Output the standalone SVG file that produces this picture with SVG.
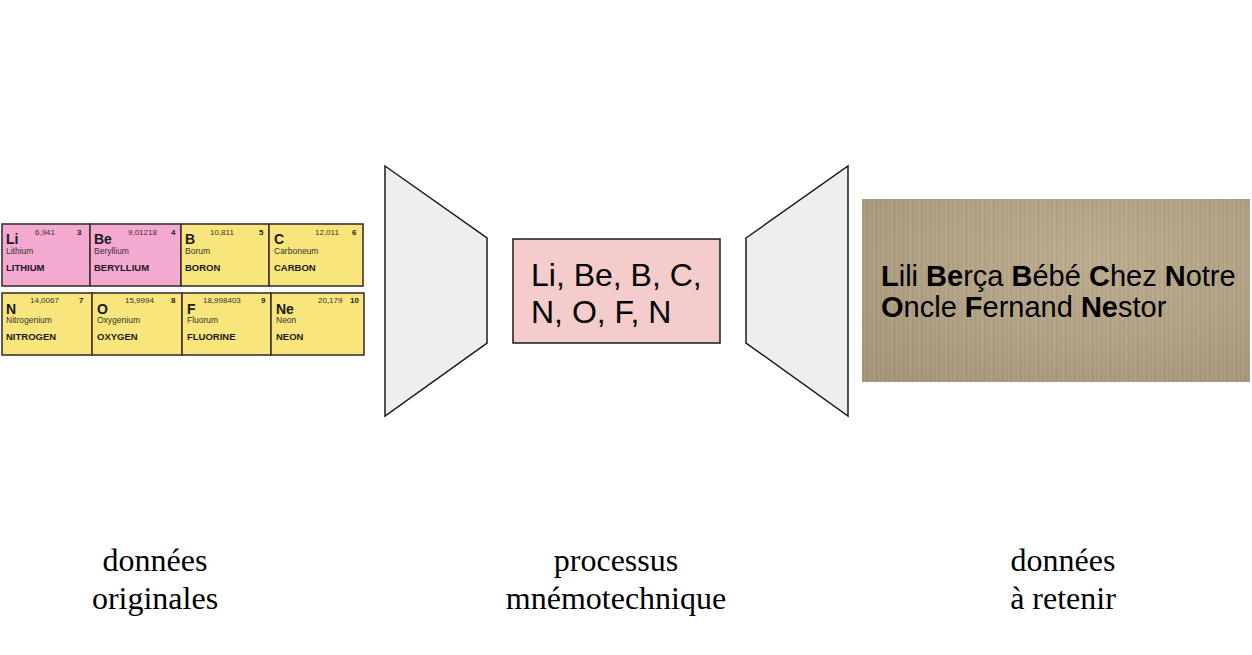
<svg xmlns="http://www.w3.org/2000/svg" width="1252" height="655" viewBox="0 0 1252 655">
<style>
.tile{stroke:#3d3232;stroke-width:1.6}
.pk{fill:#f3a9d0}
.ye{fill:#f8e57c}
.sym{font-family:"Liberation Sans",Arial,sans-serif;font-weight:bold;font-size:14px;fill:#1a1a1a}
.wt{font-family:"Liberation Sans",Arial,sans-serif;font-size:8px;fill:#333}
.num{font-family:"Liberation Sans",Arial,sans-serif;font-weight:bold;font-size:8px;fill:#222}
.lat{font-family:"Liberation Sans",Arial,sans-serif;font-size:8.5px;fill:#333}
.eng{font-family:"Liberation Sans",Arial,sans-serif;font-weight:bold;font-size:9.5px;fill:#1a1a1a}
.trap{fill:#eeeeee;stroke:#1a1a1a;stroke-width:1.5}
.cap{font-family:"Liberation Serif","Times New Roman",serif;font-size:32px;fill:#000;text-anchor:middle}
.mid{font-family:"Liberation Sans",Arial,sans-serif;font-size:32px;fill:#000}
.mn{font-family:"Liberation Sans",Arial,sans-serif;font-size:29px;fill:#000}
.mn tspan.b{font-weight:bold}
</style>
<defs>
<pattern id="paper" width="9" height="40" patternUnits="userSpaceOnUse">
<rect width="9" height="40" fill="#b2a285"/>
<line x1="1" y1="0" x2="1" y2="40" stroke="#c6b89b" stroke-width="0.8" opacity="0.7"/>
<line x1="3.5" y1="0" x2="3.5" y2="40" stroke="#9a8a6f" stroke-width="0.6" opacity="0.5"/>
<line x1="6" y1="0" x2="6" y2="40" stroke="#c9bb9f" stroke-width="0.6" opacity="0.6"/>
<line x1="8" y1="0" x2="8" y2="40" stroke="#a09075" stroke-width="0.5" opacity="0.4"/>
</pattern>
<radialGradient id="shade" cx="0.6" cy="0.35" r="0.8">
<stop offset="0" stop-color="#d8ccb2" stop-opacity="0.2"/>
<stop offset="1" stop-color="#7d6c52" stop-opacity="0.25"/>
</radialGradient>
</defs>
<rect width="1252" height="655" fill="#ffffff"/>

<g id="periodic-table">
<g id="tile-li"><rect class="tile pk" x="2" y="224" width="88" height="62"/>
<text class="sym" x="6" y="244">Li</text><text class="wt" x="35" y="235">6,941</text><text class="num" x="77" y="235">3</text>
<text class="lat" x="6" y="254">Lithium</text><text class="eng" x="6" y="271">LITHIUM</text></g>
<g id="tile-be"><rect class="tile pk" x="90" y="224" width="91" height="62"/>
<text class="sym" x="94" y="244">Be</text><text class="wt" x="128" y="235">9,01218</text><text class="num" x="171" y="235">4</text>
<text class="lat" x="94" y="254">Beryllium</text><text class="eng" x="94" y="271">BERYLLIUM</text></g>
<g id="tile-b"><rect class="tile ye" x="181" y="224" width="88" height="62"/>
<text class="sym" x="185" y="244">B</text><text class="wt" x="210" y="235">10,811</text><text class="num" x="259" y="235">5</text>
<text class="lat" x="185" y="254">Borum</text><text class="eng" x="185" y="271">BORON</text></g>
<g id="tile-c"><rect class="tile ye" x="269" y="224" width="94" height="62"/>
<text class="sym" x="274" y="244">C</text><text class="wt" x="315" y="235">12,011</text><text class="num" x="352" y="235">6</text>
<text class="lat" x="274" y="254">Carboneum</text><text class="eng" x="274" y="271">CARBON</text></g>

<g id="tile-n"><rect class="tile ye" x="2" y="293" width="90" height="62"/>
<text class="sym" x="6" y="314">N</text><text class="wt" x="30" y="303">14,0067</text><text class="num" x="79" y="303">7</text>
<text class="lat" x="6" y="323">Nitrogenium</text><text class="eng" x="6" y="340">NITROGEN</text></g>
<g id="tile-o"><rect class="tile ye" x="92" y="293" width="90" height="62"/>
<text class="sym" x="97" y="314">O</text><text class="wt" x="125" y="303">15,9994</text><text class="num" x="171" y="303">8</text>
<text class="lat" x="97" y="323">Oxygenium</text><text class="eng" x="97" y="340">OXYGEN</text></g>
<g id="tile-f"><rect class="tile ye" x="182" y="293" width="89" height="62"/>
<text class="sym" x="187" y="314">F</text><text class="wt" x="203" y="303">18,998403</text><text class="num" x="261" y="303">9</text>
<text class="lat" x="187" y="323">Fluorum</text><text class="eng" x="187" y="340">FLUORINE</text></g>
<g id="tile-ne"><rect class="tile ye" x="271" y="293" width="93" height="62"/>
<text class="sym" x="276" y="314">Ne</text><text class="wt" x="318" y="303">20,179</text><text class="num" x="350" y="303">10</text>
<text class="lat" x="276" y="323">Neon</text><text class="eng" x="276" y="340">NEON</text></g>
</g>

<g id="funnel-left"><polygon class="trap" points="385,166 487,238 487,343 385,416"/></g>

<g id="mnemonic-box">
<rect x="513" y="239" width="207" height="104" fill="#f4cccc" stroke="#1a1a1a" stroke-width="1.5"/>
<text class="mid" x="531" y="286">Li, Be, B, C,</text>
<text class="mid" x="531" y="323">N, O, F, N</text>
</g>

<g id="funnel-right"><polygon class="trap" points="746,238 848,166 848,416 746,343"/></g>

<g id="phrase">
<rect x="862" y="199" width="388" height="183" fill="url(#paper)"/>
<rect x="862" y="199" width="388" height="183" fill="url(#shade)"/>
<text class="mn" x="881" y="286"><tspan class="b">L</tspan>ili <tspan class="b">Be</tspan>rça <tspan class="b">B</tspan>ébé <tspan class="b">C</tspan>hez <tspan class="b">N</tspan>otre</text>
<text class="mn" x="881" y="317"><tspan class="b">O</tspan>ncle <tspan class="b">F</tspan>ernand <tspan class="b">Ne</tspan>stor</text>
</g>

<g id="labels">
<text class="cap" x="155" y="571">données</text>
<text class="cap" x="155" y="609">originales</text>
<text class="cap" x="616" y="571">processus</text>
<text class="cap" x="616" y="609">mnémotechnique</text>
<text class="cap" x="1063" y="571">données</text>
<text class="cap" x="1063" y="609">à retenir</text>
</g>
<g id="connectors"/>
</svg>
